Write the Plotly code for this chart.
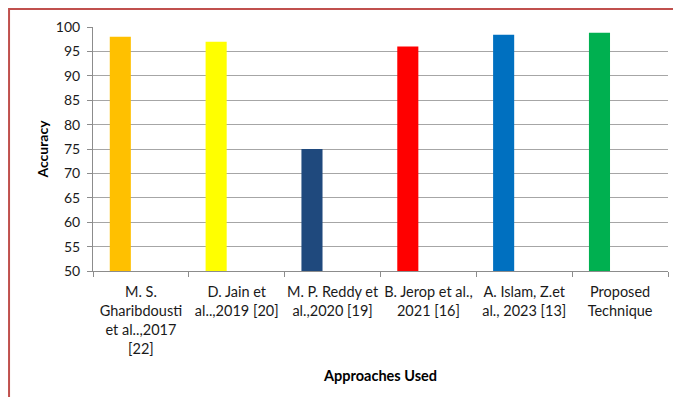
import plotly.graph_objects as go

categories = [
    "M. S.<br>Gharibdousti<br>et al..,2017<br>[22]",
    "D. Jain et<br>al..,2019 [20]",
    "M. P. Reddy et<br>al.,2020 [19]",
    "B. Jerop et al.,<br>2021 [16]",
    "A. Islam, Z.et<br>al., 2023 [13]",
    "Proposed<br>Technique",
]
accuracy = [98.0, 97.0, 75.0, 96.0, 98.4, 98.8]
colors = ["#FFC000", "#FFFF00", "#1F497D", "#FF0000", "#0070C0", "#00B050"]
y_ticks = list(range(50, 101, 5))

FONT = "Lato"

fig = go.Figure()
fig.add_trace(go.Bar(
    x=categories,
    y=accuracy,
    marker=dict(color=colors, line=dict(width=0)),
    width=0.22,
    offset=-0.325,
    showlegend=False,
))

fig.update_layout(
    width=673, height=397,
    margin=dict(l=93, r=5, t=27, b=126, autoexpand=False),
    paper_bgcolor="white",
    plot_bgcolor="white",
    font=dict(family=FONT, size=14, color="#1a1a1a"),
    xaxis=dict(
        type="category",
        range=[-0.5, 5.5],
        showline=True, linecolor="#8c8c8c", linewidth=1,
        ticks="outside", tickson="boundaries", ticklen=5, tickcolor="#8c8c8c",
        showgrid=False,
        tickfont=dict(family=FONT, size=14.5, color="#1a1a1a"),
        tickangle=0,
        ticklabelstandoff=8,
        automargin=False,
        title=dict(text="<b>Approaches Used</b>", font=dict(family=FONT, size=14.5, color="#000"), standoff=14),
    ),
    yaxis=dict(
        range=[50, 100],
        tickvals=y_ticks,
        showline=True, linecolor="#8c8c8c", linewidth=1,
        ticks="outside", ticklen=5, tickcolor="#8c8c8c",
        showgrid=True, gridcolor="#a6a6a6", gridwidth=1,
        tickfont=dict(family=FONT, size=14, color="#1a1a1a"),
        ticklabelstandoff=4,
        automargin=False,
        zeroline=False,
        title=dict(text="<b>Accuracy</b>", font=dict(family=FONT, size=14, color="#000"), standoff=3),
    ),
    shapes=[dict(
        type="rect", xref="paper", yref="paper",
        x0=-0.146, x1=1.2, y0=-1.0, y1=1.074,
        line=dict(color="#C0504D", width=2),
        fillcolor="rgba(0,0,0,0)",
        layer="below",
    )],
)

fig.write_html("out.html")
